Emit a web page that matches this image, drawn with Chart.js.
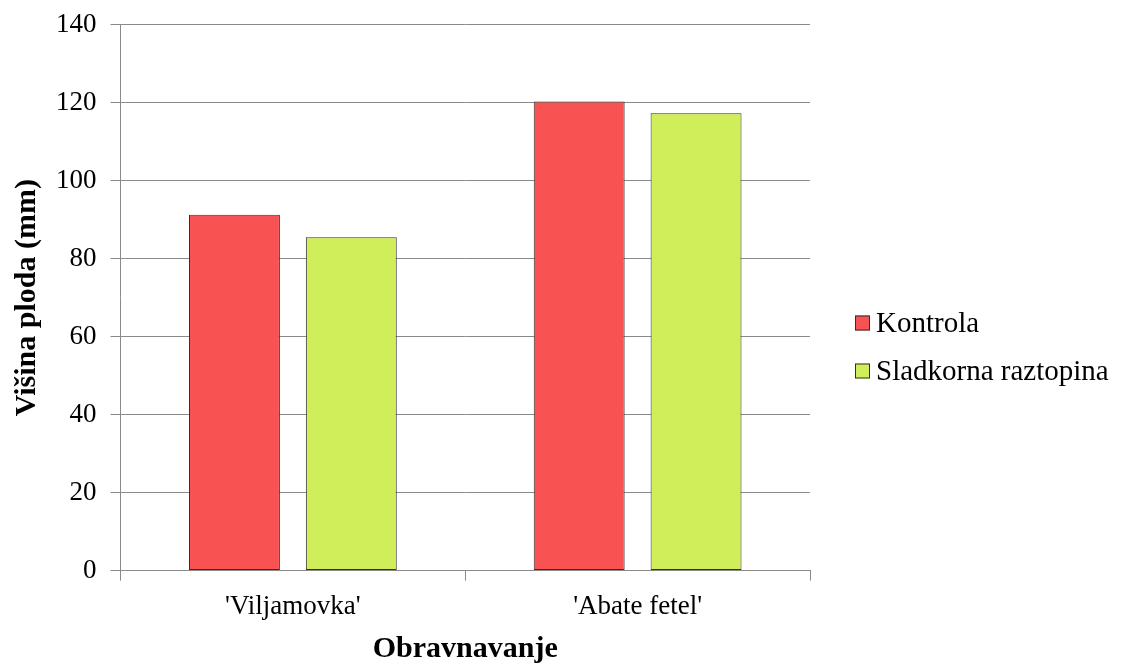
<!DOCTYPE html>
<html>
<head>
<meta charset="utf-8">
<script src="https://cdn.jsdelivr.net/npm/chart.js@4"></script>
<style>
  html, body { margin: 0; padding: 0; background: #ffffff; }
  #wrap { width: 1123px; height: 664px; position: relative; }
</style>
</head>
<body>
<div id="wrap"><canvas id="c" width="1123" height="664"></canvas></div>
<script>
// Sorte hrušk in povprečna višina ploda (mm)
const categories = ["'Viljamovka'", "'Abate fetel'"];
const seriesNames = ['Kontrola', 'Sladkorna raztopina'];
const kontrola = [91.3, 120.3];
const sladkorna = [85.5, 117.3];
const yTicks = [0, 20, 40, 60, 80, 100, 120, 140];

const serif = "'Liberation Serif', 'Times New Roman', serif";
const gridColor = '#8a8a8a';
const edgeColor = '#303030';
const fills = ['#F85252', '#D0ED5A'];

// Legenda desno od grafa: kvadratek in napis tik ob njem
const sideLegend = {
  id: 'sideLegend',
  afterDraw(chart) {
    const ctx = chart.ctx;
    const area = chart.chartArea;
    const box = 15;
    const rowGap = 48;
    const x = area.right + 45;
    const yMid = chart.height / 2 + 15;
    const items = chart.data.datasets;
    const y0 = yMid - (items.length - 1) * rowGap / 2;
    ctx.save();
    ctx.font = `29px ${serif}`;
    ctx.textBaseline = 'middle';
    ctx.textAlign = 'left';
    items.forEach((ds, i) => {
      const y = Math.round(y0 + i * rowGap);
      ctx.fillStyle = ds.backgroundColor;
      ctx.fillRect(x, y - box / 2, box, box);
      ctx.strokeStyle = edgeColor;
      ctx.lineWidth = 1;
      ctx.strokeRect(x + 0.5, y - box / 2 + 0.5, box - 1, box - 1);
      ctx.fillStyle = '#000';
      ctx.fillText(ds.label, x + box + 6, y + 1);
    });
    ctx.restore();
  }
};

new Chart(document.getElementById('c'), {
  type: 'bar',
  data: {
    labels: categories,
    datasets: [
      { label: seriesNames[0], data: kontrola, backgroundColor: fills[0], borderColor: edgeColor, borderWidth: 1, borderSkipped: false },
      { label: seriesNames[1], data: sladkorna, backgroundColor: fills[1], borderColor: edgeColor, borderWidth: 1, borderSkipped: false }
    ]
  },
  options: {
    responsive: false,
    animation: false,
    devicePixelRatio: 1,
    categoryPercentage: 0.678,
    barPercentage: 0.778,
    layout: { padding: { top: 4, right: 313, bottom: 0, left: 12 } },
    plugins: {
      tooltip: { enabled: false },
      legend: { display: false }
    },
    scales: {
      x: {
        grid: { offset: true, drawOnChartArea: false, color: gridColor, tickLength: 10, lineWidth: 1 },
        border: { display: true, color: gridColor, width: 1 },
        ticks: { color: '#000', font: { family: serif, size: 27 }, padding: 10 },
        title: { display: true, text: 'Obravnavanje', color: '#000', font: { family: serif, size: 30, weight: 'bold', lineHeight: 1 }, padding: { top: 1, bottom: 0 } }
      },
      y: {
        min: 0,
        max: 140,
        afterBuildTicks: (axis) => { axis.ticks = yTicks.map(v => ({ value: v })); },
        grid: { color: gridColor, tickLength: 10, lineWidth: 1 },
        border: { display: true, color: gridColor, width: 1 },
        ticks: { color: '#000', font: { family: serif, size: 27, lineHeight: 0.8 }, padding: 14 },
        title: { display: true, text: 'Višina ploda (mm)', color: '#000', font: { family: serif, size: 30, weight: 'bold', lineHeight: 1 }, padding: { top: 0, bottom: 0 } }
      }
    }
  },
  plugins: [sideLegend]
});
</script>
</body>
</html>
